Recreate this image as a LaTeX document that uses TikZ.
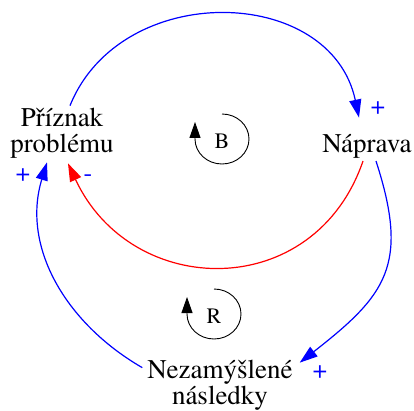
\documentclass[tikz,border=0pt]{standalone}
\usepackage{fontspec}
\setmainfont{texgyretermes-regular.otf}
\usetikzlibrary{arrows.meta}

\begin{document}
\begin{tikzpicture}[x=1pt, y=1pt,
  var/.style={align=center, inner sep=2pt, font=\fontsize{27}{26}\selectfont},
  link/.style={line width=1.2pt, -{Triangle[length=18pt,width=12pt]}},
  sign/.style={text=blue, inner sep=0pt, font=\fontsize{26}{28}\selectfont},
  loopname/.style={inner sep=0pt, font=\fontsize{22}{24}\selectfont},
  loopmark/.style={line width=0.9pt, -{Triangle[length=16pt,width=11pt]}}]
  \useasboundingbox (0,0) rectangle (414,410);

  % variables
  \node[var] (prz) at (62,277) {Příznak\\problému};
  \node[var, anchor=base] (nap) at (367,257) {Náprava};
  \node[var] (nez) at (220,25) {Nezamýšlené\\následky};

  % loop names
  \node[loopname] (bal) at (222,269) {B};
  \node[loopname] (rein) at (214,94) {R};
  \draw[loopmark] ([yshift=27pt]bal.center)
    arc[start angle=90, end angle=-180, x radius=27, y radius=25] -- ++(0,17);
  \draw[loopmark] ([yshift=27pt]rein.center)
    arc[start angle=90, end angle=-180, x radius=27, y radius=25] -- ++(0,17);

  % links
  \draw[link, blue] ([xshift=8pt]prz.north)
    to[out=68, in=102, looseness=1.2] ([xshift=-8pt, yshift=15pt]nap.north);
  \draw[link, red] ([xshift=-4pt]nap.south)
    to[out=-109, in=-65, looseness=1.3] ([xshift=6pt, yshift=-3pt]prz.south);
  \draw[link, blue] ([xshift=9pt]nap.south)
    to[out=-72, in=38, looseness=1.3] ([xshift=5pt, yshift=-5pt]nez.north east);
  \draw[link, blue] ([xshift=-3pt, yshift=-10pt]nez.north west)
    to[out=150, in=-107, looseness=1] ([xshift=-15pt, yshift=-2pt]prz.south);

  % polarities
  \node[sign] (s1) at (378,302) {+};
  \node[sign] (s2) at (23,235) {+};
  \node[sign] (s3) at (88,232) {-};
  \node[sign] (s4) at (320,38) {+};
\end{tikzpicture}
\end{document}
